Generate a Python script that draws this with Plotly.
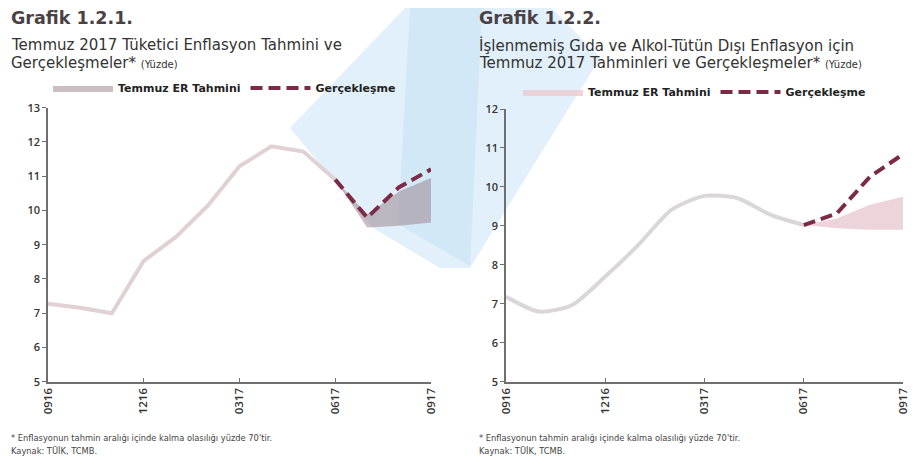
import plotly.graph_objects as go

# ---------------- data ----------------
months = ["0916", "1016", "1116", "1216", "0117", "0217", "0317",
          "0417", "0517", "0617", "0717", "0817", "0917"]
tick_labels = ["0916", "1216", "0317", "0617", "0917"]
band_months = ["0617", "0717", "0817", "0917"]

# Grafik 1.2.1 - TÜFE
cpi_hist = [7.28, 7.16, 7.00, 8.53, 9.22, 10.13, 11.29, 11.87, 11.72, 10.90]
cpi_actual = [10.90, 9.79, 10.68, 11.20]
cpi_band_low = [10.90, 9.50, 9.55, 9.65]
cpi_band_high = [10.90, 9.88, 10.55, 10.95]

# Grafik 1.2.2 - İşlenmemiş gıda ve alkol-tütün dışı
core_hist = [7.18, 6.80, 6.97, 7.70, 8.51, 9.41, 9.77, 9.71, 9.28, 9.02]
core_actual = [9.02, 9.32, 10.26, 10.84]
core_band_low = [9.02, 8.94, 8.90, 8.90]
core_band_high = [9.02, 9.19, 9.54, 9.75]

# the page body adds an 8px offset; the figure fills the rest of the window
OFF = 8
W, H = 921 - 2 * OFF, 464 - 2 * OFF
FONT = "DejaVu Sans"
TFONT = "Open Sans"
TXT = "#333333"
DASH_COL = "#7d2a47"


def px(x):
    return (x - OFF) / W


def py(y):
    return 1 - (y - OFF) / H


fig = go.Figure()

# ---- chart 1 ----
fig.add_trace(go.Scatter(x=months[:len(cpi_hist)], y=cpi_hist, mode="lines",
                         line=dict(color="#e0d1d4", width=4), showlegend=False,
                         xaxis="x", yaxis="y", hoverinfo="skip"))
fig.add_trace(go.Scatter(x=band_months, y=cpi_band_low, mode="lines",
                         line=dict(width=0, color="rgba(0,0,0,0)"), showlegend=False,
                         xaxis="x", yaxis="y", hoverinfo="skip"))
fig.add_trace(go.Scatter(x=band_months, y=cpi_band_high, mode="lines", fill="tonexty",
                         fillcolor="rgba(150,125,135,0.5)",
                         line=dict(width=0, color="rgba(0,0,0,0)"),
                         name="Temmuz ER Tahmini", legend="legend",
                         xaxis="x", yaxis="y"))
fig.add_trace(go.Scatter(x=band_months, y=cpi_actual, mode="lines",
                         line=dict(color=DASH_COL, width=4, dash="12px,6px"),
                         name="Gerçekleşme", legend="legend",
                         xaxis="x", yaxis="y"))

# ---- chart 2 ----
fig.add_trace(go.Scatter(x=months[:len(core_hist)], y=core_hist, mode="lines",
                         line=dict(color="#dad7d8", width=4, shape="spline", smoothing=0.7),
                         showlegend=False, xaxis="x2", yaxis="y2", hoverinfo="skip"))
fig.add_trace(go.Scatter(x=band_months, y=core_band_low, mode="lines",
                         line=dict(width=0, color="rgba(0,0,0,0)"), showlegend=False,
                         xaxis="x2", yaxis="y2", hoverinfo="skip"))
fig.add_trace(go.Scatter(x=band_months, y=core_band_high, mode="lines", fill="tonexty",
                         fillcolor="rgba(234,204,211,0.85)",
                         line=dict(width=0, color="rgba(0,0,0,0)"),
                         name="Temmuz ER Tahmini", legend="legend2",
                         xaxis="x2", yaxis="y2"))
fig.add_trace(go.Scatter(x=band_months, y=core_actual, mode="lines",
                         line=dict(color=DASH_COL, width=4, dash="12px,6px"),
                         name="Gerçekleşme", legend="legend2",
                         xaxis="x2", yaxis="y2"))

axis_common_x = dict(type="category", categoryorder="array", categoryarray=months,
                     range=[0, 12], tickmode="array", tickvals=tick_labels,
                     ticktext=tick_labels, tickangle=-90, showgrid=False,
                     showline=True, linecolor="#6f6f6f", linewidth=1.5,
                     ticks="inside", ticklen=4, tickcolor="#6f6f6f",
                     tickfont=dict(family=TFONT, size=11.5, color=TXT, weight=600),
                     zeroline=False, fixedrange=True, automargin=False)
axis_common_y = dict(showgrid=False, showline=True, linecolor="#6f6f6f", linewidth=1.5,
                     ticks="outside", ticklen=4, tickcolor="#6f6f6f", dtick=1,
                     tickfont=dict(family=TFONT, size=11, color=TXT, weight=600),
                     zeroline=False, fixedrange=True, automargin=False)

legend_common = dict(orientation="h", xanchor="left", yanchor="middle",
                     bgcolor="rgba(0,0,0,0)", itemwidth=60, traceorder="normal",
                     font=dict(family=FONT, size=11, color="#222", weight="bold"),
                     tracegroupgap=0)

fig.update_layout(
    width=W, height=H,
    margin=dict(l=0, r=0, t=0, b=0, autoexpand=False),
    paper_bgcolor="white", plot_bgcolor="rgba(0,0,0,0)",
    xaxis=dict(domain=[px(48), px(431)], anchor="y", **axis_common_x),
    yaxis=dict(domain=[py(381.7), py(107.7)], range=[5, 13], anchor="x", **axis_common_y),
    xaxis2=dict(domain=[px(506), px(903)], anchor="y2", **axis_common_x),
    yaxis2=dict(domain=[py(381.7), py(109)], range=[5, 12], anchor="x2", **axis_common_y),
    legend=dict(x=px(48), y=py(88), **legend_common),
    legend2=dict(x=px(518), y=py(92), **legend_common),
    showlegend=True,
)

# faint watermark of the scanned page
fig.add_shape(type="path", xref="paper", yref="paper", layer="below",
              path=f"M {px(290)},{py(128)} L {px(405)},{py(OFF)} L {px(552)},{py(OFF)} "
                   f"L {px(600)},{py(58)} L {px(577)},{py(95)} L {px(470)},{py(268)} "
                   f"L {px(440)},{py(268)} L {px(373)},{py(228)} Z",
              fillcolor="rgba(205,230,246,0.6)", line=dict(width=0))
fig.add_shape(type="path", xref="paper", yref="paper", layer="below",
              path=f"M {px(410)},{py(OFF)} L {px(482)},{py(OFF)} L {px(470)},{py(266)} "
                   f"L {px(398)},{py(224)} Z",
              fillcolor="rgba(176,214,238,0.3)", line=dict(width=0))

annotations = [
    dict(x=px(9), y=py(6), text="<b>Grafik 1.2.1.</b>", font=dict(size=17.5, color="#4a4145")),
    dict(x=px(9), y=py(34), text="Temmuz 2017 Tüketici Enflasyon Tahmini ve",
         font=dict(size=15, color=TXT)),
    dict(x=px(9), y=py(52),
         text="Gerçekleşmeler* <span style='font-size:10px'>(Yüzde)</span>",
         font=dict(size=15, color=TXT)),
    dict(x=px(9), y=py(431),
         text="* Enflasyonun tahmin aralığı içinde kalma olasılığı yüzde 70'tir.",
         font=dict(size=8.3, color="#444")),
    dict(x=px(9), y=py(444), text="Kaynak: TÜİK, TCMB.", font=dict(size=8.3, color="#444")),
    dict(x=px(477), y=py(6), text="<b>Grafik 1.2.2.</b>", font=dict(size=17.5, color="#4a4145")),
    dict(x=px(477), y=py(34), text="İşlenmemiş Gıda ve Alkol-Tütün Dışı Enflasyon için",
         font=dict(size=15, color=TXT)),
    dict(x=px(477), y=py(52),
         text="Temmuz 2017 Tahminleri ve Gerçekleşmeler* <span style='font-size:10px'>(Yüzde)</span>",
         font=dict(size=15, color=TXT)),
    dict(x=px(477), y=py(431),
         text="* Enflasyonun tahmin aralığı içinde kalma olasılığı yüzde 70'tir.",
         font=dict(size=8.3, color="#444")),
    dict(x=px(477), y=py(444), text="Kaynak: TÜİK, TCMB.", font=dict(size=8.3, color="#444")),
]
for a in annotations:
    a.update(xref="paper", yref="paper", xanchor="left", yanchor="top", showarrow=False,
             align="left")
    a["font"]["family"] = FONT
fig.update_layout(annotations=annotations)

fig.write_html("out.html")
